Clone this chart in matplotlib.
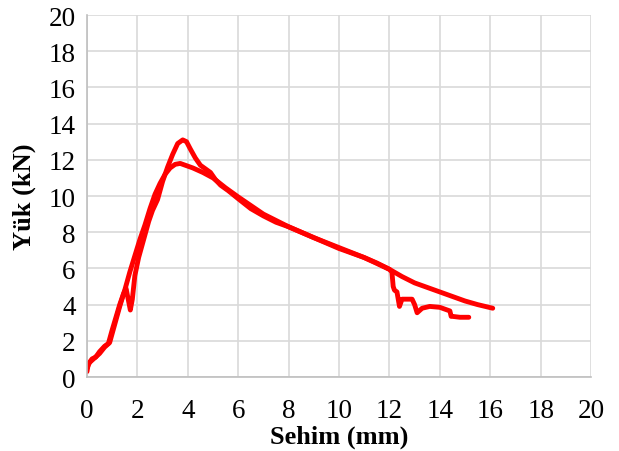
import numpy as np
import matplotlib
matplotlib.use('Agg')
import matplotlib.pyplot as plt

# ====== 数据 (图中读取) ======
# 试件 A: 峰值约 13.1 kN
sehim_a = [0, 0.05, 0.2, 0.35, 0.5, 0.7, 0.85, 1.0, 1.15, 1.3, 1.45, 1.55, 1.65, 1.72, 1.8,
           1.9, 2.05, 2.25, 2.45, 2.6, 2.8, 3.0, 3.2, 3.4, 3.6, 3.8, 3.95, 4.1, 4.3, 4.5,
           4.7, 4.9, 5.1, 5.3, 5.6, 6.0, 6.5, 7.0, 7.5, 8.0, 8.5, 9.0, 9.5, 10.0, 10.5,
           11.0, 11.5, 12.0, 12.1, 12.15, 12.2, 12.3, 12.4, 12.5, 12.7, 12.9, 13.0, 13.1,
           13.3, 13.6, 14.0, 14.4, 14.45, 14.5, 14.8, 15.15]
yuk_a = [0.3, 0.7, 1.0, 1.1, 1.4, 1.7, 1.85, 2.6, 3.3, 4.0, 4.6, 4.9, 4.2, 3.7, 4.3,
         5.6, 6.6, 7.6, 8.6, 9.2, 9.8, 10.8, 11.6, 12.3, 12.9, 13.1, 13.0, 12.6, 12.1, 11.7,
         11.5, 11.3, 10.9, 10.6, 10.3, 9.85, 9.3, 8.9, 8.55, 8.3, 8.0, 7.7, 7.4, 7.1, 6.85,
         6.6, 6.3, 5.95, 5.8, 5.0, 4.8, 4.7, 3.9, 4.3, 4.3, 4.3, 4.0, 3.55,
         3.8, 3.9, 3.85, 3.65, 3.35, 3.35, 3.3, 3.3]

# 试件 B: 峰值约 11.8 kN
sehim_b = [0, 0.1, 0.3, 0.5, 0.7, 0.9, 1.1, 1.3, 1.5, 1.7, 1.9, 2.1, 2.3, 2.5, 2.7, 2.9,
           3.1, 3.3, 3.5, 3.7, 3.9, 4.2, 4.6, 5.0, 5.5, 6.0, 7.0, 8.0, 9.0, 10.0, 11.0,
           12.0, 12.5, 13.0, 13.5, 14.0, 14.5, 15.0, 15.5, 16.1]
yuk_b = [0.5, 0.8, 1.05, 1.3, 1.65, 1.9, 2.9, 3.9, 4.8, 5.8, 6.7, 7.6, 8.4, 9.3, 10.1, 10.7,
         11.2, 11.55, 11.75, 11.8, 11.7, 11.55, 11.3, 11.0, 10.45, 9.95, 9.0, 8.3, 7.7, 7.15, 6.6,
         5.95, 5.55, 5.2, 4.95, 4.7, 4.45, 4.2, 4.0, 3.8]

x_ticks = np.arange(0, 21, 2)
y_ticks = np.arange(0, 21, 2)

plt.rcParams['font.family'] = ['Liberation Serif', 'DejaVu Serif']

fig = plt.figure(figsize=(6.19, 4.52), dpi=100)
ax = fig.add_axes([0.1405, 0.1637, 0.8143, 0.8009])

ax.plot(sehim_a, yuk_a, color='#ff0000', lw=3.5, solid_capstyle='round', solid_joinstyle='round')
ax.plot(sehim_b, yuk_b, color='#ff0000', lw=3.5, solid_capstyle='round', solid_joinstyle='round')

ax.set_xlim(0, 20); ax.set_ylim(0, 20)
ax.set_xticks(x_ticks); ax.set_yticks(y_ticks)
ax.tick_params(length=0, labelsize=19.5, colors='black')
ax.tick_params(axis='x', pad=15)
ax.tick_params(axis='y', pad=8)
ax.grid(True, color='#d9d9d9', lw=1.2)
ax.set_axisbelow(True)
for s in ['top', 'right']:
    ax.spines[s].set_visible(False)
for s in ['left', 'bottom']:
    ax.spines[s].set_color('#bfbfbf'); ax.spines[s].set_linewidth(1.2)

ax.set_xlabel('Sehim (mm)', fontsize=19, fontweight='bold', labelpad=1)
ax.set_ylabel('Yük (kN)', fontsize=19, fontweight='bold', labelpad=9)

plt.savefig('out.png', dpi=100)
plt.close()
